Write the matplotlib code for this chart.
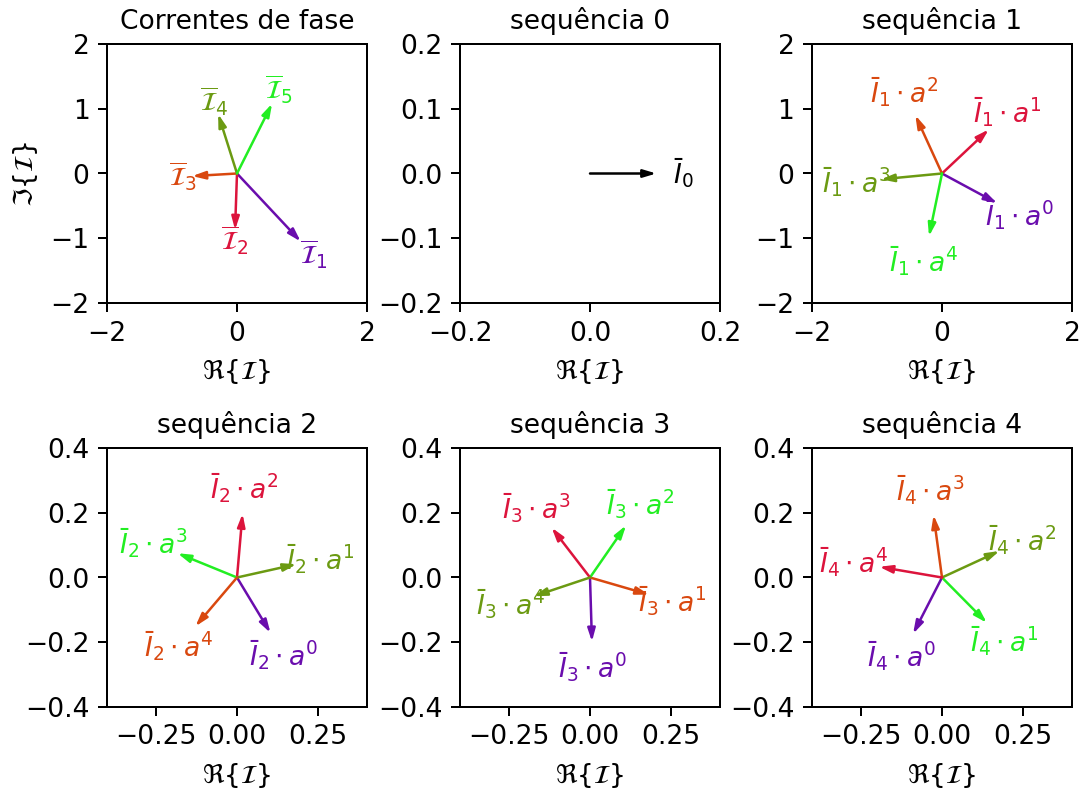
import numpy as np
import matplotlib.pyplot as plt

# correntes de fase (parte real / imaginaria)
fase_re = [0.98, -0.03, -0.69, -0.29, 0.54]
fase_im = [-1.05, -0.87, -0.04, 0.92, 1.08]

# sequencia 0
seq0_re = 0.102
seq0_im = 0.0

# componentes de sequencia, na ordem a^0 .. a^4
seq1_re = [0.85, 0.72, -0.41, -0.94, -0.20]
seq1_im = [-0.46, 0.68, 0.90, -0.09, -0.97]
seq2_re = [0.103, 0.183, 0.017, -0.183, -0.128]
seq2_im = [-0.171, 0.041, 0.197, 0.075, -0.151]
seq3_re = [0.006, 0.182, 0.111, -0.118, -0.173]
seq3_im = [-0.198, -0.053, 0.161, 0.154, -0.058]
seq4_re = [-0.089, 0.138, 0.177, -0.026, -0.193]
seq4_im = [-0.174, -0.140, 0.082, 0.193, 0.033]

# cor de cada fase
cores = ['#6a0dad', '#dc143c', '#d9480f', '#6b9a12', '#22ee22']
# fase correspondente a cada potencia de a, por sequencia
fases_seq = {1: [0, 1, 2, 3, 4],
             2: [0, 3, 1, 4, 2],
             3: [0, 2, 4, 1, 3],
             4: [0, 4, 3, 2, 1]}

fs = 10.6
plt.rcParams['font.size'] = fs


def seta(ax, x, y, cor, texto, fator):
    ax.annotate('', xy=(x, y), xytext=(0, 0),
                arrowprops=dict(arrowstyle='-|>,head_length=0.4,head_width=0.12',
                                color=cor, lw=1, shrinkA=0, shrinkB=0))
    ax.text(fator * x, fator * y, texto, color=cor, fontsize=fs,
            ha='center', va='center')


fig = plt.figure(figsize=(6, 4.4), dpi=180)

esq = [107 / 1080, 460 / 1080, 812 / 1080]
larg = 260 / 1080
alt = 259 / 792
base = [1 - 303 / 792, 1 - 707 / 792]

axs = []
for lin in range(2):
    for col in range(3):
        axs.append(fig.add_axes([esq[col], base[lin], larg, alt]))

# correntes de fase
ax = axs[0]
for k in range(5):
    seta(ax, fase_re[k], fase_im[k], cores[k],
         r'$\overline{\mathcal{I}}_%d$' % (k + 1), 1.2)
ax.set_xlim(-2, 2)
ax.set_ylim(-2, 2)
ax.set_xticks([-2, 0, 2])
ax.set_yticks([-2, -1, 0, 1, 2])
ax.set_title('Correntes de fase', fontsize=fs)
ax.set_ylabel(r'$\Im\{\mathcal{I}\}$')

# sequencia 0
ax = axs[1]
seta(ax, seq0_re, seq0_im, 'black', r'$\bar{I}_0$', 1.4)
ax.set_xlim(-0.2, 0.2)
ax.set_ylim(-0.2, 0.2)
ax.set_xticks([-0.2, 0.0, 0.2])
ax.set_yticks([-0.2, -0.1, 0.0, 0.1, 0.2])
ax.set_title('sequência 0', fontsize=fs)

seqs = {1: (seq1_re, seq1_im), 2: (seq2_re, seq2_im),
        3: (seq3_re, seq3_im), 4: (seq4_re, seq4_im)}
ax_seq = {1: axs[2], 2: axs[3], 3: axs[4], 4: axs[5]}

for s in range(1, 5):
    ax = ax_seq[s]
    re, im = seqs[s]
    for n in range(5):
        seta(ax, re[n], im[n], cores[fases_seq[s][n]],
             r'$\bar{I}_%d \cdot a^%d$' % (s, n), 1.4)
    if s == 1:
        ax.set_xlim(-2, 2)
        ax.set_ylim(-2, 2)
        ax.set_xticks([-2, 0, 2])
        ax.set_yticks([-2, -1, 0, 1, 2])
    else:
        ax.set_xlim(-0.4, 0.4)
        ax.set_ylim(-0.4, 0.4)
        ax.set_xticks([-0.25, 0.0, 0.25])
        ax.set_yticks([-0.4, -0.2, 0.0, 0.2, 0.4])
    ax.set_title('sequência %d' % s, fontsize=fs)

for ax in axs:
    ax.set_xlabel(r'$\Re\{\mathcal{I}\}$')

fig.savefig('out.png', dpi=180)
